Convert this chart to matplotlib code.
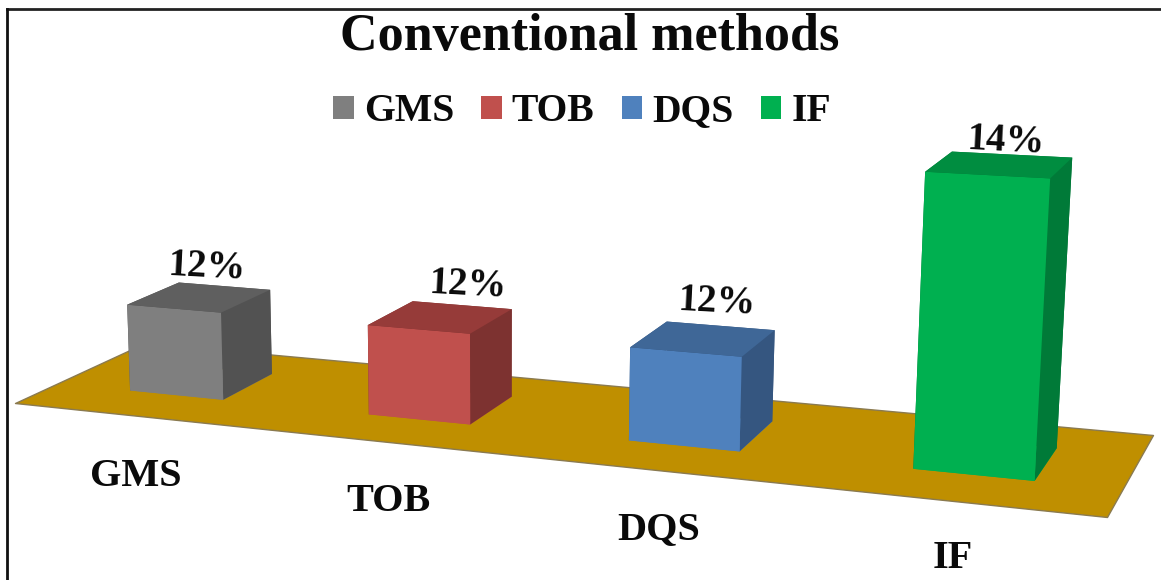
import matplotlib
matplotlib.use('Agg')
import matplotlib.pyplot as plt
import numpy as np
from matplotlib.lines import Line2D
from matplotlib.patches import Patch
from mpl_toolkits.mplot3d import proj3d
from mpl_toolkits.mplot3d.art3d import Poly3DCollection

# data
categories = ['GMS', 'TOB', 'DQS', 'IF']
values = [12.0, 12.0, 12.0, 14.0]
value_labels = ['12%', '12%', '12%', '14%']
front_colors = ['#7f7f7f', '#c0504d', '#4f81bd', '#00b050']
top_colors = ['#5f5f5f', '#963b39', '#3f6797', '#008d40']
side_colors = ['#525252', '#7d3230', '#355680', '#007a38']
BASELINE = 11.0

plt.rcParams['font.family'] = ['Liberation Serif', 'DejaVu Serif']
plt.rcParams['font.weight'] = 'bold'

W, H_PX = 1161, 580
fig = plt.figure(figsize=(W / 100, H_PX / 100), dpi=100)
ax = fig.add_axes([0, 0, 1, 1], projection='3d', computed_zorder=False)
ax.set_axis_off()


def camera_matrix():
    """Camera that puts the 4 x 1 floor and the value axis where the picture has them"""
    src = [(0, 0), (4, 0), (4, 1), (0, 1)]
    dst = [(15, 403), (1107, 517), (1153, 435), (145, 343)]
    A, b = [], []
    for (x, y), (u, v) in zip(src, dst):
        A.append([x, y, 1, 0, 0, 0, -u * x, -u * y])
        b.append(u)
        A.append([0, 0, 0, x, y, 1, -v * x, -v * y])
        b.append(v)
    h = np.linalg.solve(np.array(A, float), np.array(b, float))
    lam = -0.0081
    vx, vy = 490.0, 11054.0
    return np.array([
        [h[0], h[1], lam * vx, h[2] - BASELINE * lam * vx],
        [h[3], h[4], lam * vy, h[5] - BASELINE * lam * vy],
        [-0.3, 1.0, -0.3, 10.0],
        [h[6], h[7], lam, 1.0 - BASELINE * lam],
    ])


# fixed camera, the 2d limits of the axes are the pixels of the figure
M = camera_matrix()
ax.get_proj = lambda: M
ax.apply_aspect = lambda position=None, **kw: None
ax._viewLim.intervalx = (0, W)
ax._viewLim.intervaly = (H_PX, 0)


def text_at(x, y, z, s, **kw):
    xp, yp, _ = proj3d.proj_transform(x, y, z, M)
    ax.text2D(xp, yp, s, transform=ax.transData, color='#0a0a0a', zorder=10, **kw)


# floor
floor = Poly3DCollection([[(0, 0, BASELINE), (4, 0, BASELINE), (4, 1, BASELINE), (0, 1, BASELINE)]],
                         facecolor='#bf8f00', edgecolor='#8a7a50', linewidth=1, zorder=1)
ax.add_collection3d(floor)

# bars and the labels on them
label_dx = [0.445, 0.545, 0.51, 0.505]
label_dz = [-0.04, -0.01, 0.03, -0.08]
for i, v in enumerate(values):
    # faces: bottom, top, front, back, left, right
    colors = [front_colors[i], top_colors[i], front_colors[i],
              side_colors[i], side_colors[i], side_colors[i]]
    ax.bar3d(i + 0.32, 0.31, BASELINE, 0.40, 0.41, v - BASELINE,
             color=colors, shade=False, zorder=2 + i)
    text_at(i + label_dx[i], 0.72, v + label_dz[i], value_labels[i], fontsize=28, rotation=-3,
            ha='center', va='bottom')

# category labels in front of the floor
label_x = [0.90, 1.82, 2.73, 3.64]
label_y = [-0.68, -0.64, -0.61, -0.57]
for x, y, name in zip(label_x, label_y, categories):
    text_at(x, y, BASELINE, name, fontsize=29, ha='center', va='center')

fig.text(590 / W, 1 - 50 / H_PX, 'Conventional methods', fontsize=37.5, ha='center',
         va='baseline', color='#0a0a0a')

handles = [Patch(facecolor=c, edgecolor='none') for c in front_colors]
fig.legend(handles, categories, loc='center', bbox_to_anchor=(582 / W, 1 - 112 / H_PX), ncol=4,
           frameon=False, fontsize=28.5, handlelength=0.52, handleheight=0.5, handletextpad=0.26,
           columnspacing=0.68, labelcolor='#0a0a0a', borderpad=0)

# frame of the picture, only top and left are inside the image
fig.add_artist(Line2D([7 / W, 1], [1 - 8.5 / H_PX] * 2, color='#222222', linewidth=2))
fig.add_artist(Line2D([7 / W, 7 / W], [0, 1 - 8.5 / H_PX], color='#111111', linewidth=2))

fig.savefig('out.png', dpi=100, facecolor='white')
